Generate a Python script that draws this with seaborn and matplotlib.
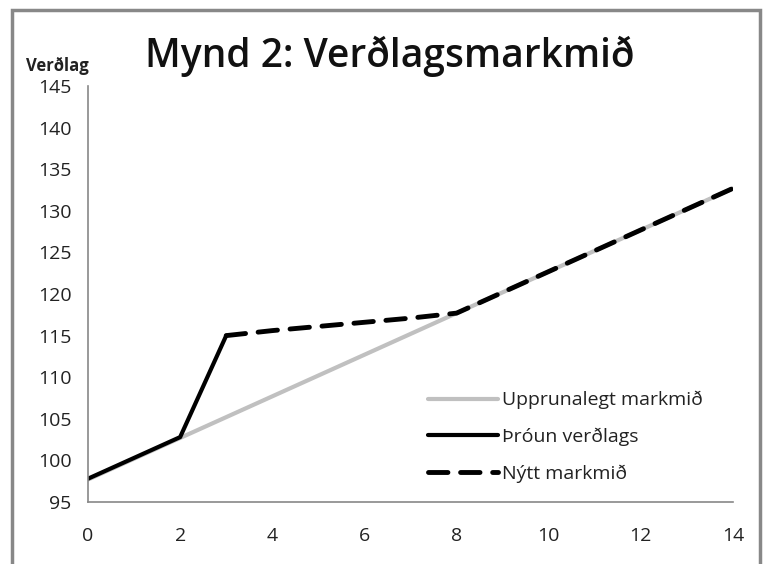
import numpy as np
import pandas as pd
import seaborn as sns
import matplotlib.pyplot as plt
from matplotlib.patches import Rectangle

# data
ar = [0, 2, 3, 4, 5, 6, 7, 8, 9, 10, 11, 12, 13, 14]
upprunalegt = [97.7, 102.7, 105.2, 107.7, 110.2, 112.7, 115.2, 117.7, 120.2, 122.7, 125.2, 127.7, 130.2, 132.7]
throun_x = [0, 2, 3]
throun = [97.8, 102.8, 115.0]
nytt_x = [3, 4, 5, 6, 7, 8, 9, 10, 11, 12, 13, 14]
nytt = [115.0, 115.6, 116.1, 116.6, 117.1, 117.7, 120.2, 122.7, 125.2, 127.7, 130.2, 132.7]

sns.set_style("white")
plt.rcParams['font.family'] = ['Open Sans', 'DejaVu Sans']

fig = plt.figure(figsize=(7.68, 5.64), dpi=100)
ax = fig.add_axes([88/768, 1-502/564, (733-88)/768, (502-86)/564])

df1 = pd.DataFrame({"x": ar, "y": upprunalegt})
df2 = pd.DataFrame({"x": throun_x, "y": throun})
df3 = pd.DataFrame({"x": nytt_x, "y": nytt})

sns.lineplot(data=df1, x="x", y="y", ax=ax, color="#c0c0c0", linewidth=3, label="Upprunalegt markmið")
sns.lineplot(data=df2, x="x", y="y", ax=ax, color="black", linewidth=3, label="Þróun verðlags")
sns.lineplot(data=df3, x="x", y="y", ax=ax, color="black", linewidth=3.5, label="Nýtt markmið")
ax.lines[-1].set_dashes([4, 2.6])
ax.lines[-1].set_dash_capstyle("round")

ax.set_xlim(0, 14)
ax.set_ylim(95, 145)
ax.set_xticks(range(0, 15, 2))
ax.set_yticks(range(95, 146, 5))
ax.set_xlabel("")
ax.set_ylabel("")
for s in ["top", "right"]:
    ax.spines[s].set_visible(False)
for s in ["left", "bottom"]:
    ax.spines[s].set_color("#888888")
    ax.spines[s].set_linewidth(1.2)
ax.tick_params(axis="both", which="both", direction="out", length=6, width=1.2,
               color="#888888", labelsize=14, labelcolor="#222222")
ax.tick_params(axis="x", pad=12)
ax.tick_params(axis="y", pad=6)

leg = ax.legend(loc="upper left", bbox_to_anchor=((428-88)/645, 1-(391-86)/416), frameon=False,
                fontsize=14, handlelength=3.6, handletextpad=0.2, labelspacing=0.95,
                borderaxespad=0, borderpad=0)
for t in leg.get_texts():
    t.set_color("#222222")

fig.text(145/768, 1-56/564, "Mynd 2: Verðlagsmarkmið", fontsize=28, fontweight="semibold",
         va="center", ha="left", color="#111111")
fig.text(26/768, 1-66/564, "Verðlag", fontsize=12, fontweight="bold", va="center", ha="left",
         color="#222222")

# outer frame
fig.patches.append(Rectangle((12/768, -0.1), (760-12)/768, 1.1-10/564, transform=fig.transFigure,
                             fill=False, edgecolor="#888888", linewidth=2.5))

fig.savefig("out.png", dpi=100)
